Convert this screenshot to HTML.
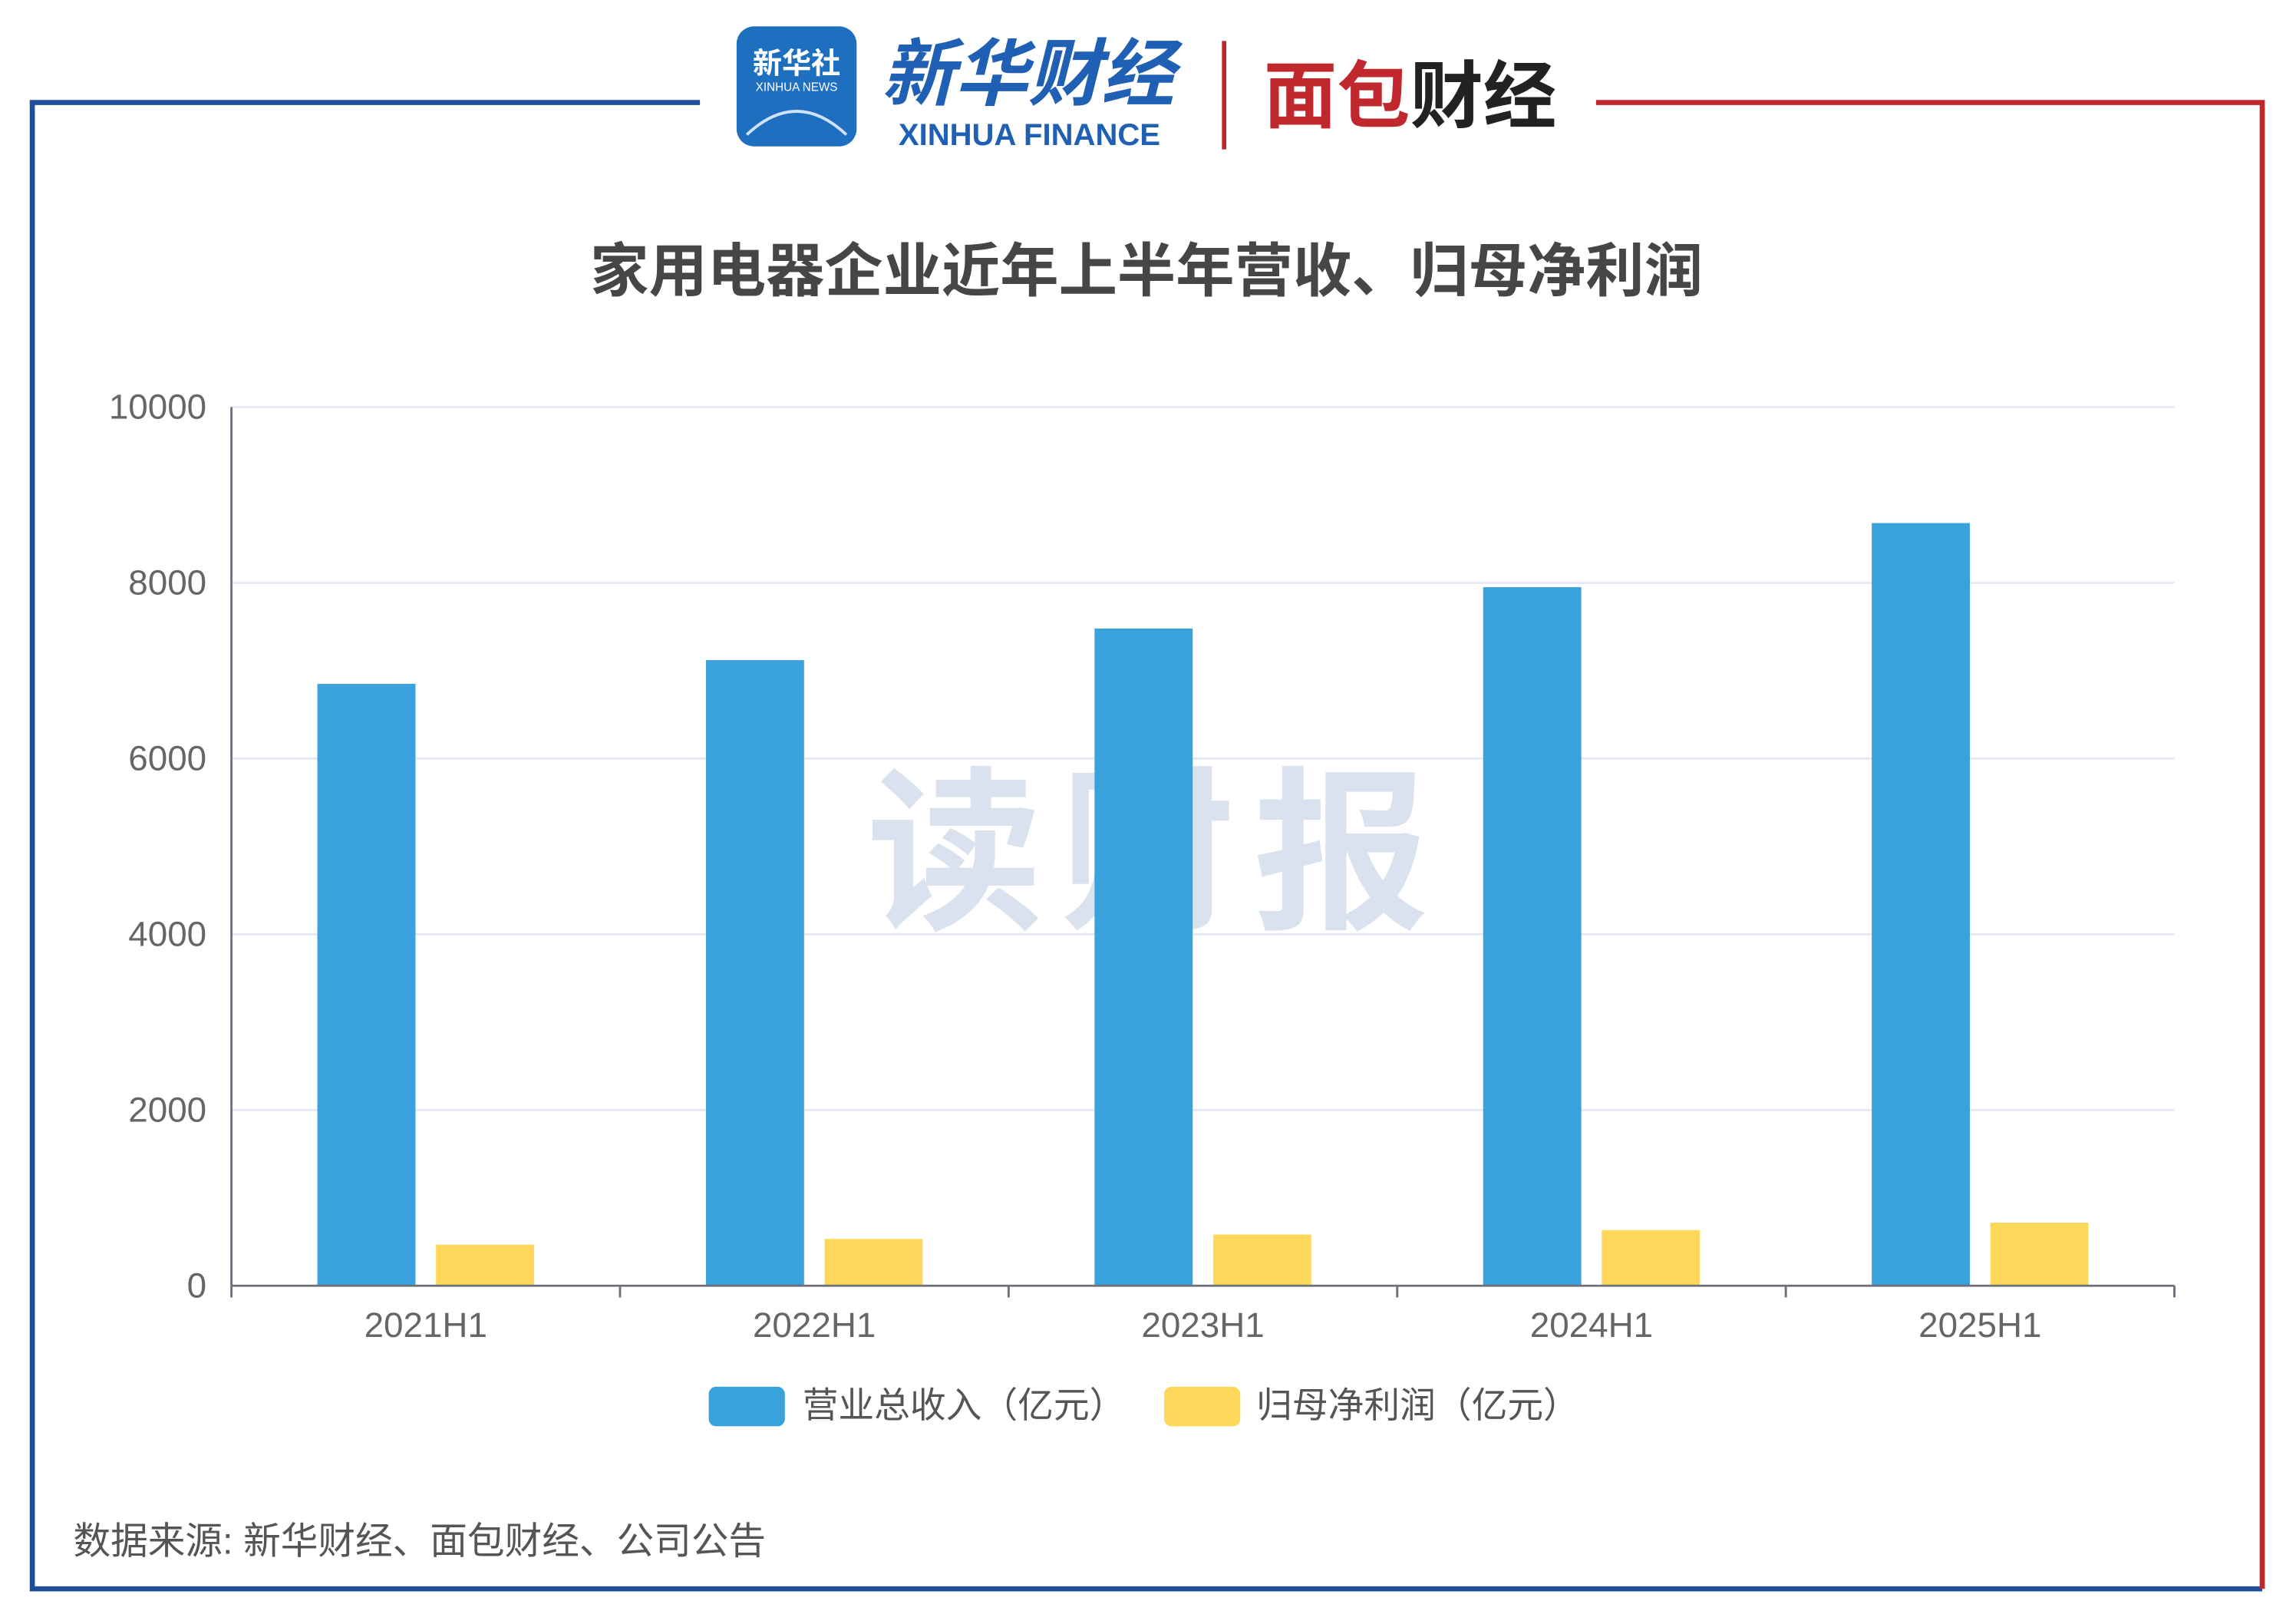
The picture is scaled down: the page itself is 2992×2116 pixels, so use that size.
<!DOCTYPE html>
<html><head><meta charset="utf-8"><style>
html,body{margin:0;padding:0;background:#fff;}
svg{display:block;}
text{font-family:"Liberation Sans","Noto Sans CJK SC",sans-serif;}
</style></head><body>
<svg id="chart" width="2992" height="2116" viewBox="0 0 1568 1109" xmlns="http://www.w3.org/2000/svg">
  <rect width="1568" height="1109" fill="#fff"/>
  <g>
    <polyline points="478,70 22,70 22,1085 1545,1085" fill="none" stroke="#1f4e9a" stroke-width="3.5"/>
    <polyline points="1090,70 1545,70 1545,1085" fill="none" stroke="#c0282d" stroke-width="3.5"/>
  </g>
  <g>
    <rect x="503" y="18" width="82" height="82" rx="12" fill="#1f6fc0"/>
    <text x="544" y="50" font-size="20" fill="#fff" text-anchor="middle" font-weight="bold">新华社</text>
    <text x="544" y="62" font-size="8" fill="#fff" text-anchor="middle">XINHUA NEWS</text>
    <path d="M510 92 Q544 60 578 92" fill="none" stroke="#cfe3ff" stroke-width="2"/>
    <text x="702" y="68" font-size="50" fill="#1f5fb4" text-anchor="middle" font-weight="bold" font-style="italic">新华财经</text>
    <text x="703" y="99" font-size="21" fill="#1f5fb4" text-anchor="middle" font-weight="bold" font-family="Liberation Serif,serif">XINHUA FINANCE</text>
  </g>
  <line x1="836" y1="28" x2="836" y2="102" stroke="#c0282d" stroke-width="3"/>
  <g>
    <text x="963" y="83" font-size="50" fill="#c0282d" text-anchor="middle" font-weight="bold">面包<tspan fill="#222">财经</tspan></text>
  </g>
  <text x="783" y="199" font-size="40" font-weight="bold" fill="#464646" text-anchor="middle">家用电器企业近年上半年营收、归母净利润</text>
  <text x="790" y="625" font-size="120" font-weight="bold" fill="#c9d6e8" opacity="0.7" text-anchor="middle" letter-spacing="12">读财报</text>
  <g id="grid"></g>
  <g id="bars"></g>
  <g id="axes"></g>
  <g>
    <g>
      <rect x="484" y="947" width="52" height="27" rx="5" fill="#39a1db"/>
      <text x="548" y="968" font-size="24.5" fill="#555">营业总收入（亿元）</text>
    </g>
    <g>
      <rect x="795" y="947" width="52" height="27" rx="5" fill="#fdd85a"/>
      <text x="858" y="968" font-size="24.5" fill="#555">归母净利润（亿元）</text>
    </g>
  </g>
  <text x="50" y="1061" font-size="25.5" fill="#555">数据来源: 新华财经、面包财经、公司公告</text>
</svg>
<script>
const categories = ['2021H1','2022H1','2023H1','2024H1','2025H1'];
const revenue = [6850, 7120, 7480, 7950, 8680];
const netProfit = [467, 533, 583, 633, 717];
const yTicks = [0, 2000, 4000, 6000, 8000, 10000];

const NS = 'http://www.w3.org/2000/svg';
const x0 = 158, x1 = 1485, y0 = 878, yTop = 278, yMax = 10000;
const band = (x1 - x0) / categories.length;
const yScale = v => y0 - (v / yMax) * (y0 - yTop);
const xCenter = i => x0 + band * (i + 0.5);
function mk(tag, attrs, parent){ const e=document.createElementNS(NS,tag); for(const k in attrs) e.setAttribute(k,attrs[k]); parent.appendChild(e); return e; }

const grid = document.getElementById('grid');
const axes = document.getElementById('axes');
const bars = document.getElementById('bars');
yTicks.forEach(t => {
  const y = yScale(t);
  if (t > 0) {
    const g = mk('line',{x1:x0,x2:x1,y1:y,y2:y,stroke:'#e3e8f2','stroke-width':1.5},grid);
    
    
  }
  const l = mk('text',{x:141,y:y+8,'font-size':24,fill:'#666','text-anchor':'end'},axes);
  l.textContent = t;
  
  
});
const ya = mk('line',{x1:x0,x2:x0,y1:yTop,y2:y0,stroke:'#6e7079','stroke-width':1.5},axes);


const xa = mk('line',{x1:x0,x2:x1,y1:y0,y2:y0,stroke:'#6e7079','stroke-width':1.5},axes);


for (let i = 0; i <= categories.length; i++) {
  const x = x0 + band * i;
  const t = mk('line',{x1:x,x2:x,y1:y0,y2:y0+8,stroke:'#6e7079','stroke-width':1.5},axes);
  
  
}
categories.forEach((c, i) => {
  const cx = xCenter(i);
  const lb = mk('text',{x:cx,y:913,'font-size':24,fill:'#666','text-anchor':'middle'},axes);
  lb.textContent = c;
  
  
  const b1 = mk('rect',{x:cx-74,y:yScale(revenue[i]),width:67,height:y0-yScale(revenue[i]),fill:'#39a1db'},bars);
  
  
  const b2 = mk('rect',{x:cx+7,y:yScale(netProfit[i]),width:67,height:y0-yScale(netProfit[i]),fill:'#fdd85a'},bars);
  
  
});
</script>
</body></html>
